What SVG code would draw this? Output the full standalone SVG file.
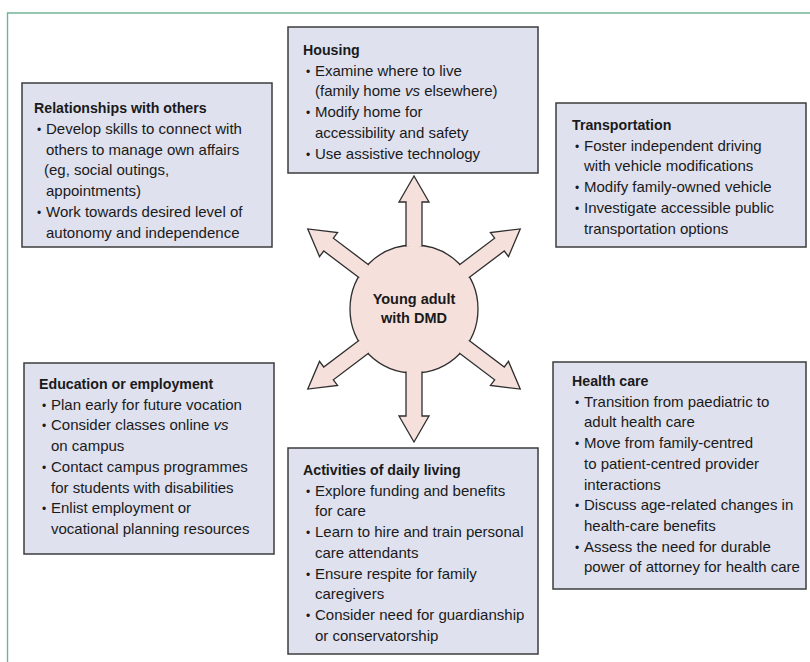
<svg xmlns="http://www.w3.org/2000/svg" xmlns:xlink="http://www.w3.org/1999/xlink" width="810" height="662" viewBox="0 0 810 662">
<style>
.frame{stroke:#72b497;stroke-width:1.4;fill:none}
.box{fill:#dfe1ef;stroke:#3c3c3c;stroke-width:1.5}
.t{font-family:"Liberation Sans",Arial,sans-serif;font-size:15px;fill:#1a1a1a}
.h{font-family:"Liberation Sans",Arial,sans-serif;font-size:14.2px;font-weight:bold;fill:#1a1a1a}
.b{font-family:"Liberation Sans",Arial,sans-serif;font-size:12px;fill:#1a1a1a;text-anchor:middle}
.c{font-family:"Liberation Sans",Arial,sans-serif;font-size:14.5px;font-weight:bold;fill:#1a1a1a;text-anchor:middle}
.star{fill:#f5e0dc;stroke:#2e2e2e;stroke-width:1.3;stroke-linejoin:miter}
</style>
<defs>
<path id="arr" class="star" d="M -8,-62.6 L -8,-107 L -15,-107 L 0,-133 L 15,-107 L 8,-107 L 8,-62.6"/>
</defs>
<rect width="810" height="662" fill="#ffffff"/>
<path class="frame" d="M 7.5,662 L 7.5,13 L 810,13"/>

<g id="center">
<circle class="star" cx="414" cy="309" r="64"/>
</g>
<g id="connectors">
<use xlink:href="#arr" transform="translate(414,309)"/>
<use xlink:href="#arr" transform="translate(414,309) rotate(53)"/>
<use xlink:href="#arr" transform="translate(414,309) rotate(127)"/>
<use xlink:href="#arr" transform="translate(414,309) rotate(180)"/>
<use xlink:href="#arr" transform="translate(414,309) rotate(233)"/>
<use xlink:href="#arr" transform="translate(414,309) rotate(307)"/>
</g>
<g id="center-label">
<text class="c" x="414" y="303.5">Young adult</text>
<text class="c" x="414" y="323">with DMD</text>
</g>

<g id="relationships">
<rect class="box" x="22" y="83" width="250" height="164"/>
<text class="h" x="34" y="113">Relationships with others</text>
<text class="b" x="39" y="133.8">•</text>
<text class="t" x="46" y="133.8">Develop skills to connect with</text>
<text class="t" x="46" y="154.6">others to manage own affairs</text>
<text class="t" x="44" y="175.4">(eg, social outings,</text>
<text class="t" x="46" y="196.2">appointments)</text>
<text class="b" x="39" y="217">•</text>
<text class="t" x="46" y="217">Work towards desired level of</text>
<text class="t" x="46" y="237.8">autonomy and independence</text>
</g>

<g id="housing">
<rect class="box" x="288" y="27" width="250" height="146"/>
<text class="h" x="303" y="55">Housing</text>
<text class="b" x="308" y="75.7">•</text>
<text class="t" x="315" y="75.7">Examine where to live</text>
<text class="t" x="315" y="96.4">(family home <tspan font-style="italic">vs</tspan> elsewhere)</text>
<text class="b" x="308" y="117.1">•</text>
<text class="t" x="315" y="117.1">Modify home for</text>
<text class="t" x="315" y="137.8">accessibility and safety</text>
<text class="b" x="308" y="158.5">•</text>
<text class="t" x="315" y="158.5">Use assistive technology</text>
</g>

<g id="transportation">
<rect class="box" x="556" y="103" width="250" height="144"/>
<text class="h" x="572" y="130">Transportation</text>
<text class="b" x="577" y="150.7">•</text>
<text class="t" x="584" y="150.7">Foster independent driving</text>
<text class="t" x="584" y="171.4">with vehicle modifications</text>
<text class="b" x="577" y="192.1">•</text>
<text class="t" x="584" y="192.1">Modify family-owned vehicle</text>
<text class="b" x="577" y="212.8">•</text>
<text class="t" x="584" y="212.8">Investigate accessible public</text>
<text class="t" x="584" y="233.5">transportation options</text>
</g>

<g id="education">
<rect class="box" x="24" y="363" width="250" height="191"/>
<text class="h" x="39" y="389">Education or employment</text>
<text class="b" x="44" y="409.7">•</text>
<text class="t" x="51" y="409.7">Plan early for future vocation</text>
<text class="b" x="44" y="430.4">•</text>
<text class="t" x="51" y="430.4">Consider classes online <tspan font-style="italic">vs</tspan></text>
<text class="t" x="51" y="451.1">on campus</text>
<text class="b" x="44" y="471.8">•</text>
<text class="t" x="51" y="471.8">Contact campus programmes</text>
<text class="t" x="51" y="492.5">for students with disabilities</text>
<text class="b" x="44" y="513.2">•</text>
<text class="t" x="51" y="513.2">Enlist employment or</text>
<text class="t" x="51" y="533.9">vocational planning resources</text>
</g>

<g id="health-care">
<rect class="box" x="553" y="362" width="253" height="227"/>
<text class="h" x="572" y="386">Health care</text>
<text class="b" x="577" y="406.7">•</text>
<text class="t" x="584" y="406.7">Transition from paediatric to</text>
<text class="t" x="584" y="427.4">adult health care</text>
<text class="b" x="577" y="448.1">•</text>
<text class="t" x="584" y="448.1">Move from family-centred</text>
<text class="t" x="584" y="468.8">to patient-centred provider</text>
<text class="t" x="584" y="489.5">interactions</text>
<text class="b" x="577" y="510.2">•</text>
<text class="t" x="584" y="510.2">Discuss age-related changes in</text>
<text class="t" x="584" y="530.9">health-care benefits</text>
<text class="b" x="577" y="551.6">•</text>
<text class="t" x="584" y="551.6">Assess the need for durable</text>
<text class="t" x="584" y="572.3">power of attorney for health care</text>
</g>

<g id="activities">
<rect class="box" x="288" y="448" width="250" height="206"/>
<text class="h" x="303" y="475">Activities of daily living</text>
<text class="b" x="308" y="495.7">•</text>
<text class="t" x="315" y="495.7">Explore funding and benefits</text>
<text class="t" x="315" y="516.4">for care</text>
<text class="b" x="308" y="537.1">•</text>
<text class="t" x="315" y="537.1">Learn to hire and train personal</text>
<text class="t" x="315" y="557.8">care attendants</text>
<text class="b" x="308" y="578.5">•</text>
<text class="t" x="315" y="578.5">Ensure respite for family</text>
<text class="t" x="315" y="599.2">caregivers</text>
<text class="b" x="308" y="619.9">•</text>
<text class="t" x="315" y="619.9">Consider need for guardianship</text>
<text class="t" x="315" y="640.6">or conservatorship</text>
</g>
</svg>
